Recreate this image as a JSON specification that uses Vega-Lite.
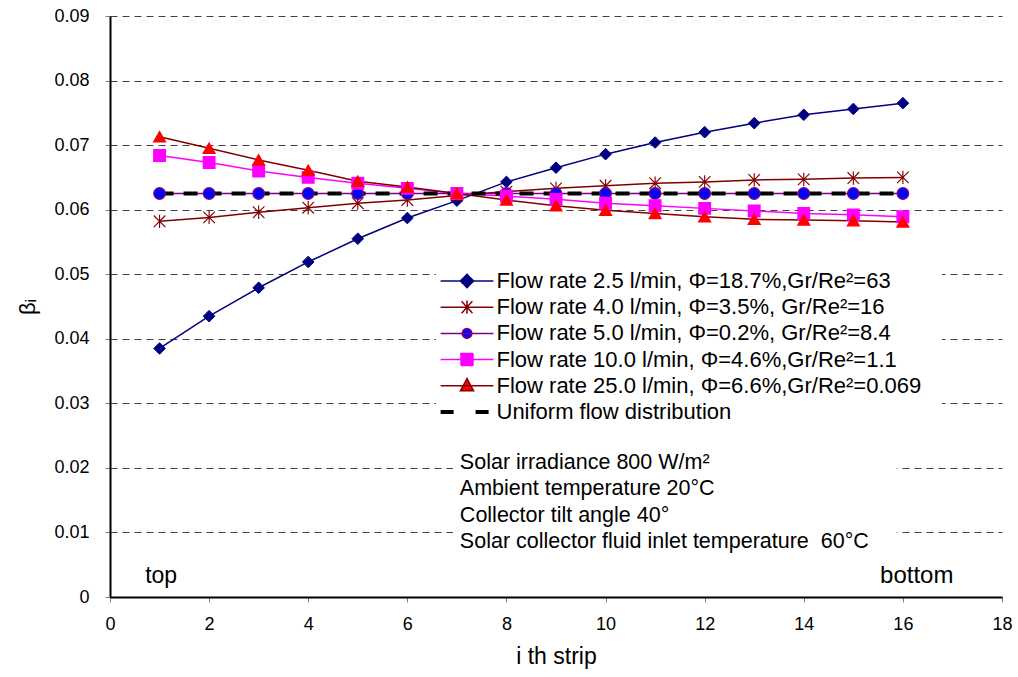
{
  "$schema": "https://vega.github.io/schema/vega-lite/v6.json",
  "width": 892,
  "height": 581,
  "autosize": {"type": "none"},
  "padding": {"left": 110, "top": 16, "right": 16, "bottom": 80},
  "background": "white",
  "config": {"font": "Liberation Sans", "view": {"stroke": null}},
  "datasets": {
    "flow": [
      {"s":"A","x":1,"y":0.0385},{"s":"A","x":2,"y":0.0435},{"s":"A","x":3,"y":0.0479},{"s":"A","x":4,"y":0.0519},{"s":"A","x":5,"y":0.0555},{"s":"A","x":6,"y":0.0587},{"s":"A","x":7,"y":0.0614},{"s":"A","x":8,"y":0.0643},{"s":"A","x":9,"y":0.0665},{"s":"A","x":10,"y":0.0686},{"s":"A","x":11,"y":0.0704},{"s":"A","x":12,"y":0.0720},{"s":"A","x":13,"y":0.0734},{"s":"A","x":14,"y":0.0747},{"s":"A","x":15,"y":0.0756},{"s":"A","x":16,"y":0.0765},
      {"s":"B","x":1,"y":0.0582},{"s":"B","x":2,"y":0.0588},{"s":"B","x":3,"y":0.0596},{"s":"B","x":4,"y":0.0603},{"s":"B","x":5,"y":0.0610},{"s":"B","x":6,"y":0.0615},{"s":"B","x":7,"y":0.0622},{"s":"B","x":8,"y":0.0628},{"s":"B","x":9,"y":0.0633},{"s":"B","x":10,"y":0.0637},{"s":"B","x":11,"y":0.0641},{"s":"B","x":12,"y":0.0643},{"s":"B","x":13,"y":0.0646},{"s":"B","x":14,"y":0.0647},{"s":"B","x":15,"y":0.0649},{"s":"B","x":16,"y":0.0650},
      {"s":"C","x":1,"y":0.0625},{"s":"C","x":2,"y":0.0625},{"s":"C","x":3,"y":0.0625},{"s":"C","x":4,"y":0.0625},{"s":"C","x":5,"y":0.0625},{"s":"C","x":6,"y":0.0625},{"s":"C","x":7,"y":0.0625},{"s":"C","x":8,"y":0.0625},{"s":"C","x":9,"y":0.0625},{"s":"C","x":10,"y":0.0625},{"s":"C","x":11,"y":0.0625},{"s":"C","x":12,"y":0.0625},{"s":"C","x":13,"y":0.0625},{"s":"C","x":14,"y":0.0625},{"s":"C","x":15,"y":0.0625},{"s":"C","x":16,"y":0.0625},
      {"s":"D","x":1,"y":0.0684},{"s":"D","x":2,"y":0.0673},{"s":"D","x":3,"y":0.0660},{"s":"D","x":4,"y":0.0650},{"s":"D","x":5,"y":0.0641},{"s":"D","x":6,"y":0.0633},{"s":"D","x":7,"y":0.0625},{"s":"D","x":8,"y":0.0621},{"s":"D","x":9,"y":0.0616},{"s":"D","x":10,"y":0.0610},{"s":"D","x":11,"y":0.0606},{"s":"D","x":12,"y":0.0602},{"s":"D","x":13,"y":0.0598},{"s":"D","x":14,"y":0.0594},{"s":"D","x":15,"y":0.0592},{"s":"D","x":16,"y":0.0589},
      {"s":"E","x":1,"y":0.0713},{"s":"E","x":2,"y":0.0695},{"s":"E","x":3,"y":0.0677},{"s":"E","x":4,"y":0.0661},{"s":"E","x":5,"y":0.0644},{"s":"E","x":6,"y":0.0635},{"s":"E","x":7,"y":0.0625},{"s":"E","x":8,"y":0.0615},{"s":"E","x":9,"y":0.0606},{"s":"E","x":10,"y":0.0599},{"s":"E","x":11,"y":0.0594},{"s":"E","x":12,"y":0.0589},{"s":"E","x":13,"y":0.0585},{"s":"E","x":14,"y":0.0584},{"s":"E","x":15,"y":0.0583},{"s":"E","x":16,"y":0.0581}
    ],
    "uniform": [{"s":"U","x":1,"y":0.0625},{"s":"U","x":16,"y":0.0625}]
  },
  "layer": [
    {
      "data": {"name": "flow"},
      "mark": {"type": "line", "strokeWidth": 1.5},
      "encoding": {
        "x": {
          "field": "x", "type": "quantitative",
          "scale": {"domain": [0, 18], "nice": false},
          "axis": {
            "values": [0, 2, 4, 6, 8, 10, 12, 14, 16, 18],
            "grid": false,
            "domainColor": "black", "domainWidth": 2,
            "tickColor": "#808080", "tickSize": 5, "tickWidth": 1,
            "labelFontSize": 18, "labelColor": "black", "labelPadding": 13, "labelFlush": false,
            "title": "i th strip", "titleFontSize": 23, "titleFontWeight": "normal", "titleColor": "black", "titlePadding": 12
          }
        },
        "y": {
          "field": "y", "type": "quantitative",
          "scale": {"domain": [0, 0.09], "nice": false},
          "axis": {
            "values": [0, 0.01, 0.02, 0.03, 0.04, 0.05, 0.06, 0.07, 0.08, 0.09],
            "labelExpr": "'' + datum.value",
            "grid": true, "gridDash": [7, 5], "gridColor": "#404040", "gridWidth": 1,
            "domainColor": "black", "domainWidth": 2,
            "tickColor": "#808080", "tickSize": 5, "tickWidth": 1,
            "labelFontSize": 18, "labelColor": "black", "labelPadding": 16,
            "title": "βᵢ", "titleFontSize": 22, "titleFontWeight": "normal", "titleColor": "black", "titlePadding": 14
          }
        },
        "color": {
          "field": "s", "type": "nominal",
          "scale": {"domain": ["A", "B", "C", "D", "E", "U"], "range": ["#000080", "#800000", "#800080", "#FF00FF", "#800000", "#000000"]},
          "legend": {
            "title": null, "orient": "none", "legendX": 326, "legendY": 234,
            "symbolSize": 576, "labelFontSize": 22, "labelColor": "black", "labelOffset": 18.5, "labelLimit": 700,
            "rowPadding": 4.2, "padding": 20, "fillColor": "white",
            "labelExpr": "{'A':'Flow rate 2.5 l/min, Φ=18.7%,Gr/Re²=63','B':'Flow rate 4.0 l/min, Φ=3.5%, Gr/Re²=16','C':'Flow rate 5.0 l/min, Φ=0.2%, Gr/Re²=8.4','D':'Flow rate 10.0 l/min, Φ=4.6%,Gr/Re²=1.1','E':'Flow rate 25.0 l/min, Φ=6.6%,Gr/Re²=0.069','U':'Uniform flow distribution'}[datum.value]",
            "encode": {
              "symbols": {
                "update": {
                  "shape": {"signal": "{'A':'M-2.2,0H2.2M0,-0.55L0.55,0L0,0.55L-0.55,0Z','B':'M-2.2,0H2.2M-0.45,-0.5L0.45,0.5M-0.45,0.5L0.45,-0.5M0,-0.55V0.55','C':'M-2.2,0H2.2M-0.4,0A0.4,0.4,0,1,0,0.4,0A0.4,0.4,0,1,0,-0.4,0Z','D':'M-2.2,0H2.2M-0.5,-0.5H0.5V0.5H-0.5Z','E':'M-2.2,0H2.2M0,-0.6L0.55,0.42L-0.55,0.42Z','U':'M-2.2,0H2.2'}[datum.value]"},
                  "fill": {"signal": "{'A':'#000080','B':'transparent','C':'#0000FF','D':'#FF00FF','E':'#FF0000','U':'transparent'}[datum.value]"},
                  "stroke": {"signal": "{'A':'#000080','B':'#800000','C':'#800080','D':'#FF00FF','E':'#800000','U':'#000000'}[datum.value]"},
                  "strokeWidth": {"signal": "datum.value === 'U' ? 4 : 1.5"},
                  "strokeDash": {"signal": "datum.value === 'U' ? [13, 22] : [1, 0]"},
                  "opacity": {"value": 1}
                }
              }
            }
          }
        }
      }
    },
    {
      "data": {"name": "uniform"},
      "mark": {"type": "line", "strokeWidth": 4, "strokeDash": [14, 10], "color": "black"},
      "encoding": {
        "x": {"field": "x", "type": "quantitative"},
        "y": {"field": "y", "type": "quantitative"}
      }
    },
    {
      "data": {"name": "flow"},
      "mark": {"type": "point", "filled": true, "opacity": 1},
      "encoding": {
        "x": {"field": "x", "type": "quantitative"},
        "y": {"field": "y", "type": "quantitative"},
        "shape": {"field": "s", "type": "nominal", "legend": null,
          "scale": {"domain": ["A", "B", "C", "D", "E"], "range": ["diamond", "M-1,-1L1,1M-1,1L1,-1M0,-1.15V1.15", "circle", "square", "triangle-up"]}},
        "fill": {"field": "s", "type": "nominal", "legend": null,
          "scale": {"domain": ["A", "B", "C", "D", "E"], "range": ["#000080", "transparent", "#0000FF", "#FF00FF", "#FF0000"]}},
        "stroke": {"field": "s", "type": "nominal", "legend": null,
          "scale": {"domain": ["A", "B", "C", "D", "E"], "range": ["#000080", "#800000", "#800080", "#FF00FF", "#FF0000"]}},
        "size": {"field": "s", "type": "nominal", "legend": null,
          "scale": {"domain": ["A", "B", "C", "D", "E"], "range": [135, 130, 75, 150, 170]}},
        "strokeWidth": {"field": "s", "type": "nominal", "legend": null,
          "scale": {"domain": ["A", "B", "C", "D", "E"], "range": [1, 1.6, 1.5, 1, 1]}}
      }
    },
    {
      "data": {"values": [{}]},
      "mark": {"type": "rect", "fill": "white"},
      "encoding": {
        "x": {"datum": 6.92, "type": "quantitative"},
        "x2": {"datum": 15.88},
        "y": {"datum": 0.0228, "type": "quantitative"},
        "y2": {"datum": 0.0065}
      }
    },
    {
      "data": {"values": [{}]},
      "mark": {"type": "text", "align": "left", "baseline": "alphabetic", "fontSize": 21.5, "lineHeight": 26.3, "color": "black",
        "text": ["Solar irradiance 800 W/m²", "Ambient temperature 20°C", "Collector tilt angle 40°", "Solar collector fluid inlet temperature \u00a060°C"]},
      "encoding": {
        "x": {"datum": 7.06, "type": "quantitative"},
        "y": {"datum": 0.0198, "type": "quantitative"}
      }
    },
    {
      "data": {"values": [{}]},
      "mark": {"type": "text", "align": "left", "baseline": "alphabetic", "fontSize": 23, "color": "black", "text": "top"},
      "encoding": {
        "x": {"datum": 0.71, "type": "quantitative"},
        "y": {"datum": 0.0022, "type": "quantitative"}
      }
    },
    {
      "data": {"values": [{}]},
      "mark": {"type": "text", "align": "left", "baseline": "alphabetic", "fontSize": 24, "color": "black", "text": "bottom"},
      "encoding": {
        "x": {"datum": 15.54, "type": "quantitative"},
        "y": {"datum": 0.0022, "type": "quantitative"}
      }
    }
  ]
}
